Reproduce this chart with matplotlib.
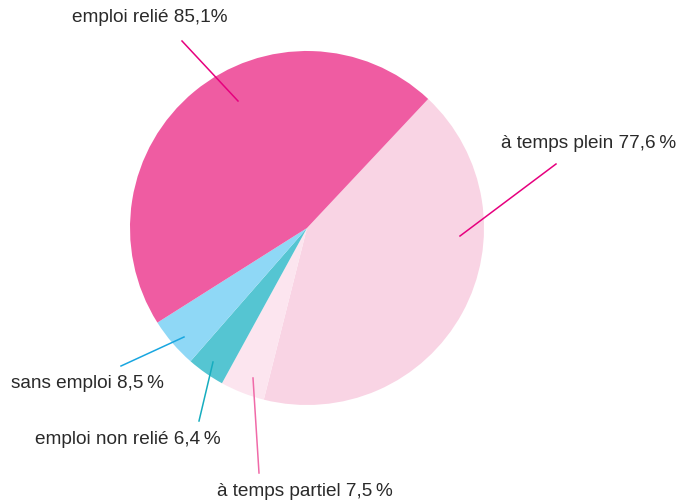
import matplotlib.pyplot as plt

# values as drawn, clockwise from the upper right
labels = ['à temps plein 77,6\u2009%', 'à temps partiel 7,5\u2009%',
          'emploi non relié 6,4\u2009%', 'sans emploi 8,5\u2009%',
          'emploi relié 85,1%']
values = [77.6, 7.5, 6.4, 8.5, 85.1]
colors = ['#f9d4e4', '#fce5ef', '#55c5d2', '#8fd8f6', '#ef5ca2']
line_colors = ['#e6007e', '#f06aa8', '#16adbf', '#18a6e0', '#e6007e']

# label placement in pixels (x left, y center) and leader lines (outer, inner)
text_pos = [(501, 143), (217, 492), (35, 440), (11, 383), (72, 18)]
leaders = [((556, 164), (460, 236)), ((259, 473), (253, 378)),
           ((199, 421), (213, 362)), ((121, 366), (184, 337)),
           ((182, 41), (238, 101))]

W, H = 680, 504
fig = plt.figure(figsize=(6.8, 5.04), dpi=100)
ax = fig.add_axes([0, 0, 1, 1])
ax.set_xlim(0, W)
ax.set_ylim(0, H)
ax.axis('off')

ax.pie(values, colors=colors, startangle=46.8, counterclock=False,
       center=(307, H - 228), radius=177,
       wedgeprops=dict(linewidth=0))
ax.set_xlim(0, W)
ax.set_ylim(0, H)
ax.set_aspect('equal')

for lab, (tx, ty), (p0, p1), lc in zip(labels, text_pos, leaders, line_colors):
    ax.plot([p0[0], p1[0]], [H - p0[1], H - p1[1]], color=lc, lw=1.1)
    ax.text(tx, H - ty, lab, ha='left', va='center', fontsize=13.7,
            color='#2a2a2a', family=['Liberation Sans', 'DejaVu Sans'])

fig.savefig('out.png', dpi=100)
